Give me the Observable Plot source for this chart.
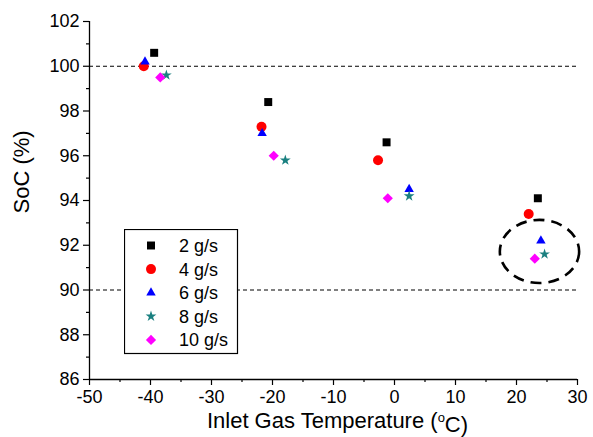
<!DOCTYPE html>
<html>
<head>
<meta charset="utf-8">
<script src="https://cdn.jsdelivr.net/npm/d3@7"></script>
<script src="https://cdn.jsdelivr.net/npm/@observablehq/plot@0.6"></script>
<style>
  body { margin: 0; background: #fff; }
  #wrap { position: relative; width: 593px; height: 437px; font-family: "Liberation Sans", Arial, sans-serif; }
  #legend { position: absolute; left: 124px; top: 229px; }
</style>
</head>
<body>
<div id="wrap"></div>
<script>
// ---- data ----
const seriesNames = ["2 g/s", "4 g/s", "6 g/s", "8 g/s", "10 g/s"];
const temp2  = [-39.4, -20.7, -1.3, 23.5];
const soc2   = [100.6, 98.4, 96.6, 94.1];
const temp4  = [-41.1, -21.8, -2.7, 22.0];
const soc4   = [100.0, 97.3, 95.8, 93.4];
const temp6  = [-40.9, -21.7, 2.4, 24.0];
const soc6   = [100.2, 97.0, 94.5, 92.2];
const temp8  = [-37.4, -17.9, 2.4, 24.6];
const soc8   = [99.6, 95.8, 94.2, 91.6];
const temp10 = [-38.4, -19.8, -1.1, 23.0];
const soc10  = [99.5, 96.0, 94.1, 91.4];
const refLines = [100, 90];
const xTicks = [-50, -40, -30, -20, -10, 0, 10, 20, 30];
const xMinor = [-45, -35, -25, -15, -5, 5, 15, 25];
const yTicks = [86, 88, 90, 92, 94, 96, 98, 100, 102];
const yMinor = [87, 89, 91, 93, 95, 97, 99, 101];
const xLabel = "Inlet Gas Temperature (°C)";
const yLabel = "SoC (%)";
// highlighted group (dashed ellipse): centre and half-axes in data units
const ellipse = {cx: 23.85, cy: 91.70, rx: 6.5, ry: 1.41};

// ---- styles ----
const styles = [
  {symbol: "square",   color: "#000000", r: 4.5},
  {symbol: "circle",   color: "#ff0000", r: 5},
  {symbol: "triangle", color: "#0000ff", r: 3.5},
  {symbol: "star",     color: "#1a8080", r: 3.4},
  {symbol: "diamond2", color: "#ff00ff", r: 4.6}
];
const temps = [temp2, temp4, temp6, temp8, temp10];
const socs = [soc2, soc4, soc6, soc8, soc10];
const seriesData = seriesNames.map((name, i) =>
  temps[i].map((t, j) => ({series: name, temp: t, soc: socs[i][j]})));

const font = "Liberation Sans, Arial, sans-serif";
const fmt = d => String(d);

const chart = Plot.plot({
  width: 593,
  height: 437,
  marginLeft: 89,
  marginRight: 16,
  marginTop: 21,
  marginBottom: 58,
  style: {fontFamily: font, fontSize: "18px", color: "#000", background: "#fff"},
  x: {domain: [-50, 30]},
  y: {domain: [86, 102]},
  marks: [
    Plot.ruleY(refLines, {stroke: "#000", strokeWidth: 1, strokeDasharray: "4,3"}),
    Plot.axisX(xTicks, {tickSize: 6, tickPadding: 5, fontSize: 18, stroke: "#000", strokeWidth: 1.2,
      tickFormat: fmt, label: null}),
    Plot.axisX(xMinor, {tickSize: 3, text: null, label: null, stroke: "#000", strokeWidth: 1.2}),
    Plot.axisY(yTicks, {tickSize: 6, tickPadding: 4, fontSize: 18, stroke: "#000", strokeWidth: 1.2,
      tickFormat: fmt, label: null}),
    Plot.axisY(yMinor, {tickSize: 3, text: null, label: null, stroke: "#000", strokeWidth: 1.2}),
    Plot.ruleX([-50], {stroke: "#000", strokeWidth: 1.3}),
    Plot.ruleY([86], {stroke: "#000", strokeWidth: 1.3}),
    Plot.text([xLabel], {frameAnchor: "bottom", text: d => d, fontSize: 22, dx: 4, dy: 41,
      lineAnchor: "middle", fill: "#000"}),
    Plot.text([yLabel], {frameAnchor: "left", text: d => d, fontSize: 22, rotate: -90, dx: -68, dy: 13,
      lineAnchor: "middle", fill: "#000"}),
    ...seriesData.map((d, i) => Plot.dot(d, {
      x: "temp", y: "soc", symbol: () => styles[i].symbol, fill: styles[i].color,
      stroke: "none", r: styles[i].r
    })),
    (index, scales) => {
      const cx = scales.x(ellipse.cx), cy = scales.y(ellipse.cy);
      const rx = scales.x(ellipse.cx + ellipse.rx) - cx;
      const ry = cy - scales.y(ellipse.cy + ellipse.ry);
      const el = document.createElementNS("http://www.w3.org/2000/svg", "ellipse");
      el.setAttribute("cx", cx); el.setAttribute("cy", cy);
      el.setAttribute("rx", rx); el.setAttribute("ry", ry);
      el.setAttribute("fill", "none"); el.setAttribute("stroke", "#000");
      el.setAttribute("stroke-width", 2.6); el.setAttribute("stroke-dasharray", "11,7");
      return el;
    }
  ]
});

// render the degree mark as a superscript "o" as in the original
d3.select(chart).selectAll("text").each(function () {
  const t = this.textContent;
  if (t === xLabel) {
    const parts = t.split("°");
    const sel = d3.select(this);
    sel.text(null);
    sel.append("tspan").text(parts[0]);
    sel.append("tspan").attr("dy", "-0.45em").attr("font-size", "13px").text("o");
    sel.append("tspan").attr("dy", "0.45em").text(parts[1]);
  }
});

const wrap = document.getElementById("wrap");
wrap.appendChild(chart);

// ---- legend (inside the plot area) ----
const lw = 113, lh = 124;
const leg = d3.create("svg").attr("id", "legend").attr("width", lw + 2).attr("height", lh + 2);
leg.append("rect").attr("x", 0.5).attr("y", 0.5).attr("width", lw).attr("height", lh)
  .attr("fill", "#fff").attr("stroke", "#000").attr("stroke-width", 1.2);
const symbolTypes = {square: d3.symbolSquare, circle: d3.symbolCircle, triangle: d3.symbolTriangle,
  star: d3.symbolStar, diamond2: d3.symbolDiamond2};
seriesNames.forEach((name, i) => {
  const y = 16.5 + i * 23.6;
  leg.append("path")
    .attr("d", d3.symbol(symbolTypes[styles[i].symbol], Math.PI * styles[i].r ** 2)())
    .attr("transform", `translate(27,${y})`).attr("fill", styles[i].color);
  leg.append("text").attr("x", 55).attr("y", y).attr("dy", "0.36em")
    .attr("font-family", font).attr("font-size", 18).attr("fill", "#000").text(name);
});
wrap.appendChild(leg.node());
</script>
</body>
</html>
